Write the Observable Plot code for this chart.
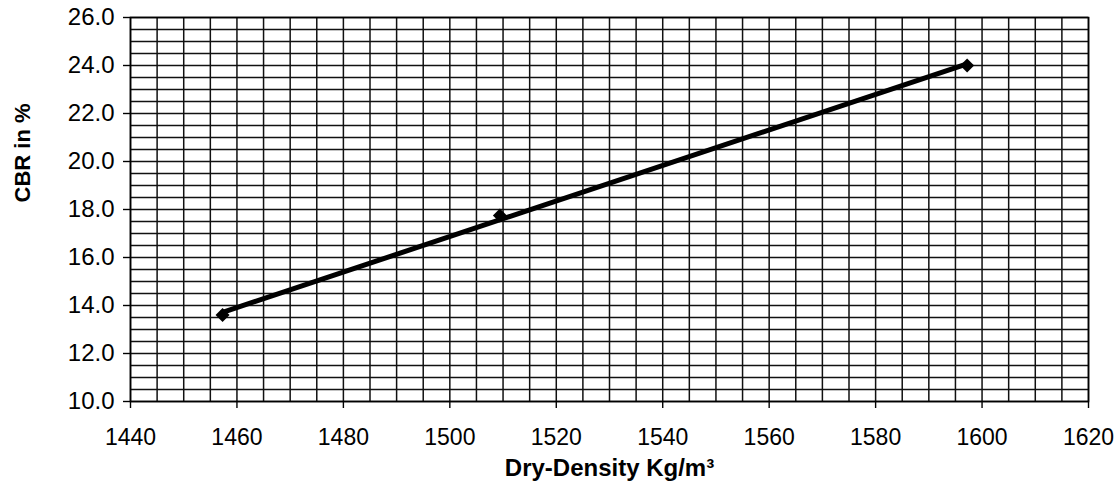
<!DOCTYPE html>
<html><head><meta charset="utf-8">
<script src="https://cdn.jsdelivr.net/npm/d3@7"></script>
<script src="https://cdn.jsdelivr.net/npm/@observablehq/plot@0.6"></script>
<style>body{margin:0;background:#fff;} svg{display:block}</style>
</head><body><div id="chart"></div>
<script>
const density = [1457.3, 1509.4, 1597.2];
const cbr = [13.6, 17.75, 24.0];
const xTicks = [1440, 1460, 1480, 1500, 1520, 1540, 1560, 1580, 1600, 1620];
const yTicks = [10, 12, 14, 16, 18, 20, 22, 24, 26];
const xGridStep = 5;
const yGridStep = 0.5;
const xTitle = "Dry-Density Kg/m³";
const yTitle = "CBR in %";

const data = density.map((d, i) => ({x: d, y: cbr[i]}));
const xGrid = d3.range(1440, 1620 + 0.001, xGridStep);
const yGrid = d3.range(10, 26 + 0.001, yGridStep);

const chart = Plot.plot({
  width: 1120, height: 502,
  marginLeft: 130, marginRight: 32, marginTop: 17, marginBottom: 101,
  style: {fontFamily: "'Liberation Sans', Arial, sans-serif", background: "#fff", color: "#000"},
  x: {domain: [1440, 1620]},
  y: {domain: [10, 26]},
  marks: [
    Plot.gridX(xGrid, {stroke: "#111", strokeOpacity: 1, strokeWidth: 1.5}),
    Plot.gridY(yGrid, {stroke: "#111", strokeOpacity: 1, strokeWidth: 1.5}),
    Plot.frame({stroke: "#000", strokeWidth: 1.6}),
    Plot.axisX({ticks: xTicks, tickSize: 7, tickPadding: 20, fontSize: 23, label: null, stroke: "#000", strokeWidth: 1.4, tickFormat: d => String(d)}),
    Plot.axisY({ticks: yTicks, tickSize: 7, tickPadding: 9, fontSize: 24, label: null, stroke: "#000", strokeWidth: 1.4, tickFormat: d => d.toFixed(1)}),
    Plot.linearRegressionY(data, {x: "x", y: "y", ci: 0, stroke: "#000", strokeWidth: 5}),
    Plot.dot(data, {x: "x", y: "y", symbol: "diamond2", r: 6.3, fill: "#000", stroke: "none"}),
    Plot.text([yTitle], {frameAnchor: "left", dx: -108, dy: -7, rotate: -90, fontSize: 22, fontWeight: "bold", fill: "#000"}),
    Plot.text([xTitle], {frameAnchor: "bottom", dy: 74, fontSize: 24, fontWeight: "bold", fill: "#000"})
  ]
});
document.getElementById("chart").appendChild(chart);
</script>
</body></html>
